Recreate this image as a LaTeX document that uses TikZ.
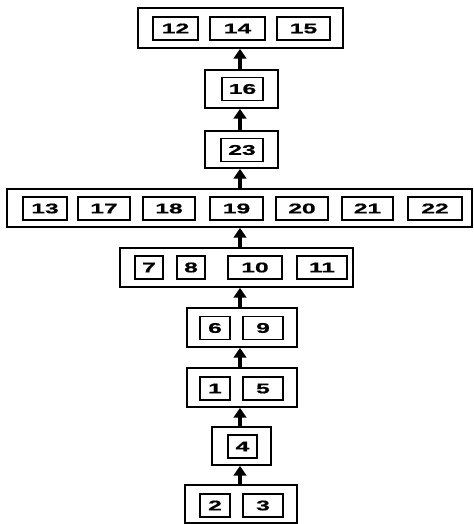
\documentclass[tikz,border=0pt]{standalone}
\usepackage{fontspec}
\newfontfamily\numfont[FakeStretch=1.75,FakeBold=0.8]{Liberation Sans}
\usetikzlibrary{arrows.meta}

\begin{document}
\begin{tikzpicture}[x=0.025cm,y=-0.025cm,
    >={Triangle[width=9pt,length=7pt]},
    grp/.style={draw, line width=1.2pt, inner sep=0pt},
    cell/.style={draw, line width=1.3pt, inner sep=0pt,
      minimum width=#1cm, minimum height=0.575cm, font=\numfont\bfseries},
    up/.style={->, line width=2.2pt}]
  \useasboundingbox (0,0) rectangle (473,524);
  \coordinate (spine) at (240,0);

  % outer boxes, top to bottom
  \node[grp, minimum width=5.125cm, minimum height=1.0cm]   (rtop) at (240.5,28)  {};
  \node[grp, minimum width=1.825cm, minimum height=0.95cm]  (r16)  at (241.5,89)  {};
  \node[grp, minimum width=1.825cm, minimum height=0.925cm] (r23)  at (241.5,149.5) {};
  \node[grp, minimum width=11.625cm, minimum height=0.95cm] (rwide) at (239.5,208) {};
  \node[grp, minimum width=5.825cm, minimum height=0.975cm] (r7)   at (236.5,267.5) {};
  \node[grp, minimum width=2.75cm, minimum height=0.975cm]  (r6)   at (242,327.5) {};
  \node[grp, minimum width=2.75cm, minimum height=0.975cm]  (r1)   at (242,387.5) {};
  \node[grp, minimum width=1.475cm, minimum height=0.95cm]  (r4)   at (241.5,446) {};
  \node[grp, minimum width=2.8cm, minimum height=0.95cm]    (r2)   at (241,504)   {};

  % inner cells
  \node[cell=1.125] (c12) at (175.5,28.5) {12};
  \node[cell=1.375] (c14) at (237.5,28.5) {14};
  \node[cell=1.325] (c15) at (303.5,28.5) {15};
  \node[cell=1.025] (c16) at (242.5,89)   {16};
  \node[cell=1.05]  (c23) at (242,150)    {23};
  \foreach \n/\x/\w in {13/45/1.1, 17/104/1.3, 18/169/1.3, 19/236.5/1.325,
                        20/302/1.3, 21/367.5/1.275, 22/435/1.35}
    \node[cell=\w] (c\n) at (\x,208.5) {\n};
  \foreach \n/\x/\w in {7/149/0.7, 8/191/0.7, 10/255/1.35, 11/322/1.25}
    \node[cell=\w] (c\n) at (\x,267.5) {\n};
  \node[cell=0.75] (c6) at (215,328)   {6};
  \node[cell=1.0]  (c9) at (263,328)   {9};
  \node[cell=0.75] (c1) at (215,388.5) {1};
  \node[cell=1.0]  (c5) at (263,388.5) {5};
  \node[cell=0.725] (c4) at (242.5,446.5) {4};
  \node[cell=0.75] (c2) at (215,505.5) {2};
  \node[cell=1.0]  (c3) at (263,505.5) {3};

  % arrows up the spine
  \draw[up] (r2.north -| spine) -- (r4.south -| spine);
  \draw[up] (r4.north -| spine) -- (r1.south -| spine);
  \draw[up] (r1.north -| spine) -- (r6.south -| spine);
  \draw[up] (r6.north -| spine) -- (r7.south -| spine);
  \draw[up] (r7.north -| spine) -- (rwide.south -| spine);
  \draw[up] (rwide.north -| spine) -- (r23.south -| spine);
  \draw[up] (r23.north -| spine) -- (r16.south -| spine);
  \draw[up] (r16.north -| spine) -- (rtop.south -| spine);
\end{tikzpicture}
\end{document}
